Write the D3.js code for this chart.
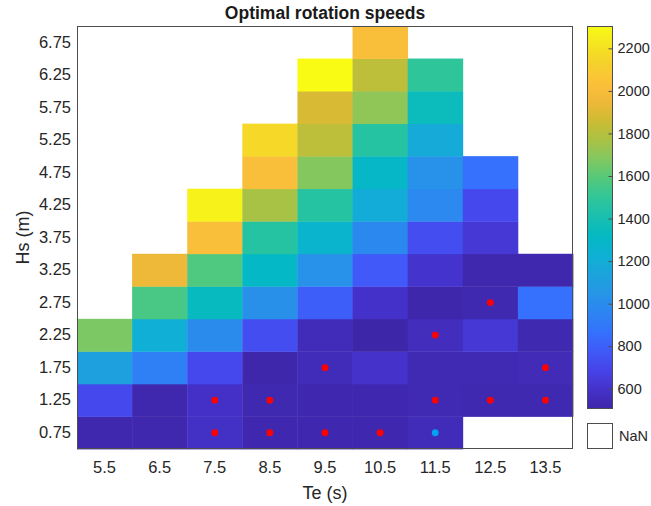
<!DOCTYPE html>
<html>
<head>
<meta charset="utf-8">
<script src="https://cdn.jsdelivr.net/npm/d3@7"></script>
<style>
  html, body { margin: 0; padding: 0; background: #fff; }
  svg { display: block; font-family: "Liberation Sans", Arial, Helvetica, sans-serif; }
</style>
</head>
<body>
<svg id="chart" width="651" height="506"></svg>
<script>
// Energy period Te (s) — columns
const te = [5.5, 6.5, 7.5, 8.5, 9.5, 10.5, 11.5, 12.5, 13.5];
// Significant wave height Hs (m) — rows, bottom to top
const hs = [0.75, 1.25, 1.75, 2.25, 2.75, 3.25, 3.75, 4.25, 4.75, 5.25, 5.75, 6.25, 6.75];

// Optimal rotation speed per sea state; one row per Hs, null = no data (NaN)
const speeds = [
  [ 520,  520,  585,  525,  525,  525,  550, null, null],  // 0.75
  [ 705,  520,  590,  530,  525,  525,  535,  530,  530],  // 1.25
  [1115,  930,  705,  515,  555,  600,  535,  535,  545],  // 1.75
  [1665, 1215,  990,  730,  555,  505,  560,  630,  530],  // 2.25
  [null, 1560, 1330, 1020,  795,  595,  510,  530,  865],  // 2.75
  [null, 1945, 1575, 1305, 1025,  775,  605,  520,  520],  // 3.25
  [null, null, 2020, 1460, 1260,  975,  730,  630, null],  // 3.75
  [null, null, 2270, 1765, 1460, 1190,  980,  705, null],  // 4.25
  [null, null, null, 2020, 1685, 1295, 1025,  865, null],  // 4.75
  [null, null, null, 2160, 1820, 1460, 1180, null, null],  // 5.25
  [null, null, null, null, 1890, 1710, 1350, null, null],  // 5.75
  [null, null, null, null, 2305, 1820, 1495, null, null],  // 6.25
  [null, null, null, null, null, 2020, null, null, null]   // 6.75
];

// Highlighted sea states: [Te, Hs]
const redMarks = [
  [7.5, 0.75], [8.5, 0.75], [9.5, 0.75], [10.5, 0.75],
  [7.5, 1.25], [8.5, 1.25], [11.5, 1.25], [12.5, 1.25], [13.5, 1.25],
  [9.5, 1.75], [13.5, 1.75], [11.5, 2.25], [12.5, 2.75]
];
const blueMarks = [[11.5, 0.75]];

const colorTicks = [600, 800, 1000, 1200, 1400, 1600, 1800, 2000, 2200];
const colorRange = [505, 2305];

// parula-like colormap
const parula = ["#3e26a8", "#4431c9", "#4743e8", "#4059f8", "#3571fd", "#2c84f2",
  "#2795e6", "#1ca3dc", "#0eb0d4", "#03b9c3", "#19bfb0", "#2fc59a", "#52c97c",
  "#80c862", "#a8c245", "#cbbc33", "#eeb838", "#fdc03a", "#f5d02c", "#f5e421", "#f9fb15"];

const svg = d3.select("#chart");
const plot = { left: 77, right: 573, top: 26, bottom: 449 };
const cbar = { left: 587, right: 613, top: 26, bottom: 409 };
const textColor = "#262626";
const frameColor = "#4d4d4d";
const tickFont = 16.5;
const labelFont = 18;

const x = d3.scaleBand().domain(te).range([plot.left, plot.right]);
const y = d3.scaleBand().domain(hs.slice().reverse()).range([plot.top, plot.bottom]);
const color = d3.scaleSequential(colorRange, d3.piecewise(d3.interpolateRgb, parula));

// heatmap cells
const cells = [];
speeds.forEach((row, i) => row.forEach((v, j) => {
  if (v !== null) cells.push({ te: te[j], hs: hs[i], v });
}));

svg.append("g").selectAll("rect").data(cells).join("rect")
  .attr("x", d => x(d.te))
  .attr("y", d => y(d.hs))
  .attr("width", x.bandwidth() + 0.4)
  .attr("height", y.bandwidth() + 0.4)
  .attr("fill", d => color(d.v));

// markers
const markG = svg.append("g");
markG.selectAll("circle.red").data(redMarks).join("circle")
  .attr("class", "red")
  .attr("cx", d => x(d[0]) + x.bandwidth() / 2)
  .attr("cy", d => y(d[1]) + y.bandwidth() / 2)
  .attr("r", 3.4)
  .attr("fill", "#ff0000");
markG.selectAll("circle.blue").data(blueMarks).join("circle")
  .attr("class", "blue")
  .attr("cx", d => x(d[0]) + x.bandwidth() / 2)
  .attr("cy", d => y(d[1]) + y.bandwidth() / 2)
  .attr("r", 3.4)
  .attr("fill", "#00a0f2");

// axes frame
svg.append("rect")
  .attr("x", plot.left + 0.5).attr("y", plot.top + 0.5)
  .attr("width", plot.right - plot.left - 1).attr("height", plot.bottom - plot.top - 1)
  .attr("fill", "none").attr("stroke", frameColor).attr("stroke-width", 1);

// x axis
const xAxis = svg.append("g")
  .attr("transform", `translate(0,${plot.bottom})`)
  .call(d3.axisBottom(x).tickSize(0).tickPadding(12).tickFormat(d3.format(".1f")));
xAxis.select(".domain").remove();
xAxis.selectAll("text").attr("font-size", tickFont).attr("fill", textColor)
  .attr("font-family", "Liberation Sans, Arial, sans-serif");

// y axis
const yAxis = svg.append("g")
  .attr("transform", `translate(${plot.left},0)`)
  .call(d3.axisLeft(y).tickSize(0).tickPadding(6).tickFormat(d3.format(".2f")));
yAxis.select(".domain").remove();
yAxis.selectAll("text").attr("font-size", tickFont).attr("fill", textColor)
  .attr("font-family", "Liberation Sans, Arial, sans-serif");

// title and axis labels
svg.append("text")
  .attr("x", (plot.left + plot.right) / 2).attr("y", 19)
  .attr("text-anchor", "middle").attr("font-size", 17.5).attr("font-weight", "bold")
  .attr("fill", "#1a1a1a")
  .text("Optimal rotation speeds");

svg.append("text")
  .attr("x", (plot.left + plot.right) / 2).attr("y", 499)
  .attr("text-anchor", "middle").attr("font-size", labelFont).attr("fill", textColor)
  .text("Te (s)");

svg.append("text")
  .attr("transform", `translate(29,${(plot.top + plot.bottom) / 2}) rotate(-90)`)
  .attr("text-anchor", "middle").attr("font-size", labelFont).attr("fill", textColor)
  .text("Hs (m)");

// colorbar
const cy = d3.scaleLinear().domain(colorRange).range([cbar.bottom, cbar.top]);
const grad = svg.append("defs").append("linearGradient")
  .attr("id", "cbgrad").attr("x1", 0).attr("y1", 1).attr("x2", 0).attr("y2", 0);
d3.range(0, 1.0001, 0.02).forEach(t => {
  grad.append("stop").attr("offset", t)
    .attr("stop-color", color(colorRange[0] + t * (colorRange[1] - colorRange[0])));
});
svg.append("rect")
  .attr("x", cbar.left).attr("y", cbar.top)
  .attr("width", cbar.right - cbar.left).attr("height", cbar.bottom - cbar.top)
  .attr("fill", "url(#cbgrad)");
svg.append("rect")
  .attr("x", cbar.left + 0.5).attr("y", cbar.top + 0.5)
  .attr("width", cbar.right - cbar.left - 1).attr("height", cbar.bottom - cbar.top - 1)
  .attr("fill", "none").attr("stroke", frameColor);

const cAxis = svg.append("g")
  .attr("transform", `translate(${cbar.right - 0.5},0)`)
  .call(d3.axisRight(cy).tickValues(colorTicks).tickSize(-4).tickPadding(5)
    .tickFormat(d3.format("d")));
cAxis.select(".domain").remove();
cAxis.selectAll("line").attr("stroke", frameColor);
cAxis.selectAll("text").attr("font-size", 14.5).attr("fill", textColor)
  .attr("font-family", "Liberation Sans, Arial, sans-serif");

// NaN swatch
svg.append("rect")
  .attr("x", cbar.left + 0.5).attr("y", 423.5)
  .attr("width", cbar.right - cbar.left - 1).attr("height", 25)
  .attr("fill", "#fff").attr("stroke", frameColor);
svg.append("text")
  .attr("x", cbar.right + 6).attr("y", 436).attr("dy", "0.35em")
  .attr("font-size", 14.5).attr("fill", textColor)
  .text("NaN");
</script>
</body>
</html>
